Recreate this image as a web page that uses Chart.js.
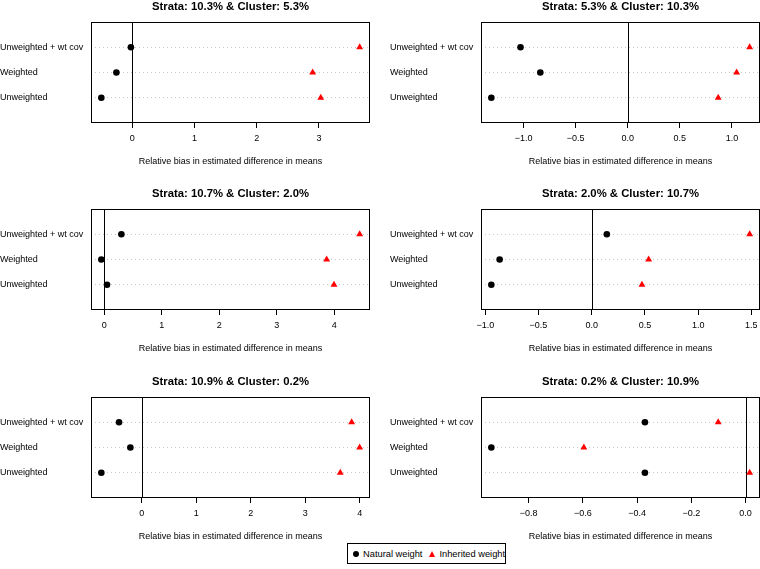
<!DOCTYPE html>
<html>
<head>
<meta charset="utf-8">
<script src="https://cdn.jsdelivr.net/npm/chart.js@4.4.1/dist/chart.umd.min.js"></script>
<style>
  body { margin: 0; background: #fff; width: 760px; height: 569px; position: relative; overflow: hidden; }
  canvas { position: absolute; }
  #legend {
    position: absolute; left: 347px; top: 543px; width: 159px; height: 21px;
    border: 1px solid #000; box-sizing: border-box;
    font: 9.3px "Liberation Sans", Arial, sans-serif; color: #000;
    display: flex; align-items: center; white-space: nowrap;
  }
  #legend span { flex-shrink: 0; }
  #legend .dot { display: inline-block; width: 6px; height: 6px; border-radius: 50%; background: #000; margin: 0 4px 0 5px; }
  #legend .tri { display: inline-block; width: 0; height: 0; border-left: 3.5px solid transparent; border-right: 3.5px solid transparent; border-bottom: 6px solid #ff0000; margin: 0 4px 0 7px; }
</style>
</head>
<body>
<canvas id="c0"></canvas>
<canvas id="c1"></canvas>
<canvas id="c2"></canvas>
<canvas id="c3"></canvas>
<canvas id="c4"></canvas>
<canvas id="c5"></canvas>
<div id="legend"><span class="dot"></span><span>Natural weight</span><span class="tri"></span><span>Inherited weight</span></div>
<script>
// rows from bottom to top, like R's dotchart
var categories = ['Unweighted', 'Weighted', 'Unweighted + wt cov'];

var titles = [
  'Strata: 10.3% & Cluster: 5.3%',
  'Strata: 5.3% & Cluster: 10.3%',
  'Strata: 10.7% & Cluster: 2.0%',
  'Strata: 2.0% & Cluster: 10.7%',
  'Strata: 10.9% & Cluster: 0.2%',
  'Strata: 0.2% & Cluster: 10.9%'
];

var natural = [
  [-0.495, -0.253, -0.02],
  [-1.309, -0.839, -1.029],
  [0.047, -0.052, 0.297],
  [-0.943, -0.865, 0.142],
  [-0.742, -0.209, -0.417],
  [-0.371, -0.937, -0.371]
];

var inherited = [
  [3.03, 2.90, 3.655],
  [0.868, 1.045, 1.170],
  [3.994, 3.866, 4.44],
  [0.472, 0.535, 1.484],
  [3.644, 4.0, 3.853],
  [0.015, -0.596, -0.101]
];

var xTicks = [
  [0, 1, 2, 3],
  [-1, -0.5, 0, 0.5, 1],
  [0, 1, 2, 3, 4],
  [-1, -0.5, 0, 0.5, 1, 1.5],
  [0, 1, 2, 3, 4],
  [-0.8, -0.6, -0.4, -0.2, 0]
];

var xTitle = 'Relative bias in estimated difference in means';
var FONT = '"Liberation Sans", Arial, Helvetica, sans-serif';

var panelPos = [
  { left: 0, top: 0 }, { left: 390, top: 0 },
  { left: 0, top: 186.5 }, { left: 390, top: 186.5 },
  { left: 0, top: 375 }, { left: 390, top: 375 }
];

// box around the plot and the line at zero
var framePlugin = {
  id: 'frame',
  beforeDatasetsDraw: function(chart) {
    var a = chart.chartArea, ctx = chart.ctx;
    var x0 = Math.round(chart.scales.x.getPixelForValue(0)) + 0.5;
    ctx.save();
    ctx.strokeStyle = '#000';
    ctx.lineWidth = 1;
    ctx.beginPath();
    ctx.moveTo(x0, a.top);
    ctx.lineTo(x0, a.bottom);
    ctx.stroke();
    ctx.restore();
  },
  afterDatasetsDraw: function(chart) {
    var a = chart.chartArea, ctx = chart.ctx;
    ctx.save();
    ctx.strokeStyle = '#000';
    ctx.lineWidth = 1;
    ctx.strokeRect(Math.round(a.left) + 0.5, Math.round(a.top) + 0.5,
      Math.round(a.right - a.left) - 1, Math.round(a.bottom - a.top) - 1);
    ctx.restore();
  }
};

function fmtTick(v, ticks) {
  var dec = ticks.some(function(t) { return t % 1 !== 0; });
  var s = dec ? Math.abs(v).toFixed(1) : String(Math.abs(v));
  return v < 0 ? '\u2212' + s : s;
}

for (var i = 0; i < 6; i++) {
  (function(i) {
    var canvas = document.getElementById('c' + i);
    var pos = panelPos[i];
    var w = (i % 2 === 0) ? 380 : 374;
    var h = 167;
    canvas.width = w; canvas.height = h;
    canvas.style.left = pos.left + 'px';
    canvas.style.top = pos.top + 'px';
    canvas.style.width = w + 'px';
    canvas.style.height = h + 'px';

    var all = natural[i].concat(inherited[i]);
    var lo = Math.min.apply(null, all), hi = Math.max.apply(null, all);
    var ext = (hi - lo) * 0.04;

    new Chart(canvas, {
      type: 'scatter',
      data: {
        datasets: [
          {
            label: 'Natural weight',
            data: natural[i].map(function(v, k) { return { x: v, y: k + 1 }; }),
            pointStyle: 'circle',
            pointRadius: 3.3,
            backgroundColor: '#000',
            borderColor: '#000',
            borderWidth: 0
          },
          {
            label: 'Inherited weight',
            data: inherited[i].map(function(v, k) { return { x: v, y: k + 1 }; }),
            pointStyle: 'triangle',
            pointRadius: 4,
            backgroundColor: '#ff0000',
            borderColor: '#ff0000',
            borderWidth: 0
          }
        ]
      },
      options: {
        responsive: false,
        animation: false,
        events: [],
        layout: { padding: { left: 0, right: (i % 2 === 0) ? 10 : 1, top: 0, bottom: 0 } },
        plugins: {
          legend: { display: false },
          tooltip: { enabled: false },
          title: {
            display: true,
            text: titles[i],
            fullSize: false,
            color: '#000',
            font: { family: FONT, size: 11.3, weight: 'bold', lineHeight: 1.2 },
            padding: { top: 0, bottom: 8.5 }
          }
        },
        scales: {
          x: {
            type: 'linear',
            min: lo - ext,
            max: hi + ext,
            afterBuildTicks: function(scale) {
              scale.ticks = xTicks[i].map(function(v) { return { value: v }; });
            },
            afterFit: function(scale) { scale.height = 44; },
            ticks: {
              color: '#000',
              font: { family: FONT, size: 9 },
              padding: 5,
              maxRotation: 0,
              autoSkip: false,
              callback: function(v) { return fmtTick(v, xTicks[i]); }
            },
            grid: { drawOnChartArea: false, drawTicks: true, tickLength: 5, color: '#000' },
            border: { display: false },
            title: {
              display: true,
              text: xTitle,
              color: '#000',
              font: { family: FONT, size: 9, lineHeight: 1.2 },
              padding: { top: 0, bottom: 0 }
            }
          },
          y: {
            type: 'linear',
            min: 0,
            max: 4,
            afterBuildTicks: function(scale) {
              scale.ticks = categories.map(function(c, k) { return { value: k + 1 }; });
            },
            afterFit: function(scale) { scale.width = 91; },
            ticks: {
              color: '#000',
              font: { family: FONT, size: 9 },
              crossAlign: 'far',
              padding: 0,
              autoSkip: false,
              callback: function(v) { return categories[v - 1]; }
            },
            grid: {
              drawOnChartArea: true,
              drawTicks: false,
              color: '#c8c8c8',
              lineWidth: 1,
              tickBorderDash: [1, 3]
            },
            border: { display: false, dash: [1, 3] }
          }
        }
      },
      plugins: [framePlugin]
    });
  })(i);
}
</script>
</body>
</html>
